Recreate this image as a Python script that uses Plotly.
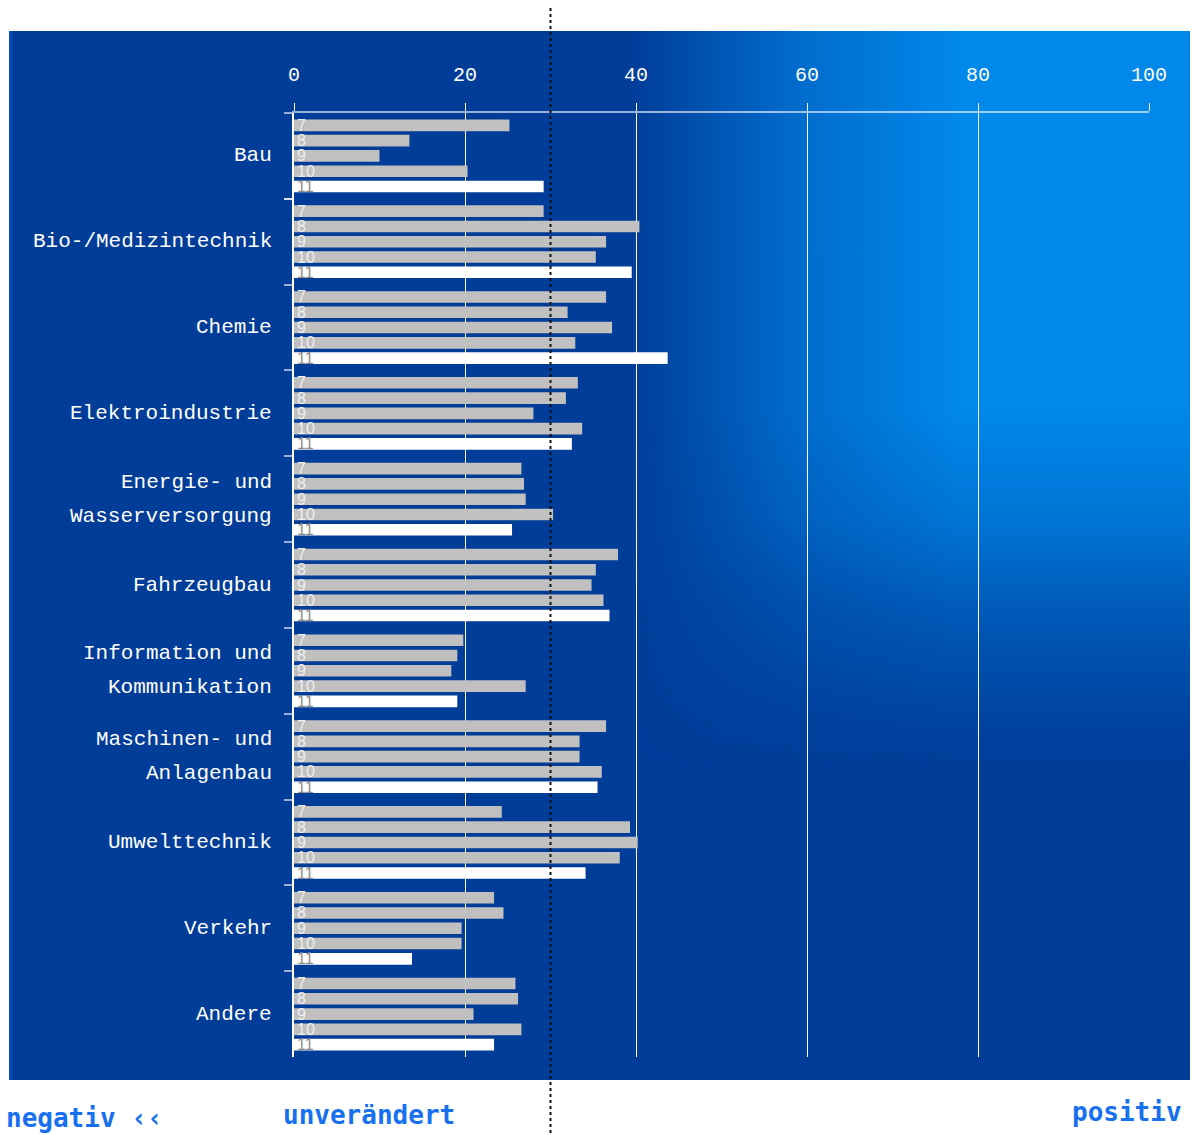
import base64
import plotly.graph_objects as go

# ---------------- data ----------------
categories = [
    "Bau", "Bio-/Medizintechnik", "Chemie", "Elektroindustrie",
    "Energie- und<br>Wasserversorgung", "Fahrzeugbau",
    "Information und<br>Kommunikation", "Maschinen- und<br>Anlagenbau",
    "Umwelttechnik", "Verkehr", "Andere",
]
series_names = ["7", "8", "9", "10", "11"]
v7 = [25.2, 29.2, 36.5, 33.2, 26.6, 37.9, 19.8, 36.5, 24.3, 23.4, 25.9]
v8 = [13.5, 40.4, 32.0, 31.8, 26.9, 35.3, 19.1, 33.4, 39.3, 24.5, 26.2]
v9 = [10.0, 36.5, 37.2, 28.0, 27.1, 34.8, 18.4, 33.4, 40.2, 19.6, 21.0]
v10 = [20.3, 35.3, 32.9, 33.7, 30.3, 36.2, 27.1, 36.0, 38.1, 19.6, 26.6]
v11 = [29.2, 39.5, 43.7, 32.5, 25.5, 36.9, 19.1, 35.5, 34.1, 13.8, 23.4]
series_values = [v7, v8, v9, v10, v11]
x_ticks = [0, 20, 40, 60, 80, 100]
reference_value = 30
bottom_labels = ["negativ \u2039\u2039", "unver\u00e4ndert", "positiv"]

# ---------------- styles ----------------
W, H = 1192, 1135
ML, MR, MT, MB = 294, 43, 113, 78
PW, PH = W - ML - MR, H - MT - MB
bar_colors = ["#c0c0c0", "#c0c0c0", "#c0c0c0", "#c0c0c0", "#ffffff"]
text_colors = ["#eeeeee", "#eeeeee", "#eeeeee", "#eeeeee", "#8c8c8c"]
MONO = "Liberation Mono, DejaVu Sans Mono, monospace"

def px_x(px):
    return (px - ML) / PW

def px_y(py):
    return (H - MB - py) / PH

fig = go.Figure()
for name, vals, bc, tc in zip(series_names, series_values, bar_colors, text_colors):
    fig.add_trace(go.Bar(
        y=categories, x=vals, orientation="h", name=name,
        marker=dict(color=bc, line=dict(width=0)),
        text=[name] * len(vals), textposition="inside", textangle=0,
        insidetextanchor="start", constraintext="none",
        textfont=dict(color=tc, size=16, family="Liberation Sans Narrow, Liberation Sans, Arial"),
        hoverinfo="x+y",
    ))

# background panel with glow (SVG gradients)
panel_x0, panel_y0, panel_x1, panel_y1 = 9, 31, 1190, 1080
pw, ph = panel_x1 - panel_x0, panel_y1 - panel_y0
svg = f'''<svg xmlns="http://www.w3.org/2000/svg" width="{pw}" height="{ph}" viewBox="0 0 {pw} {ph}" preserveAspectRatio="none">
<defs>
<linearGradient id="h" gradientUnits="userSpaceOnUse" x1="{630-panel_x0}" y1="0" x2="{960-panel_x0}" y2="0">
<stop offset="0" stop-color="#0088ea" stop-opacity="0"/>
<stop offset="0.5" stop-color="#0088ea" stop-opacity="0.62"/>
<stop offset="1" stop-color="#0088ea" stop-opacity="1"/>
</linearGradient>
<linearGradient id="v" gradientUnits="userSpaceOnUse" x1="0" y1="{410-panel_y0}" x2="0" y2="{770-panel_y0}">
<stop offset="0" stop-color="white" stop-opacity="1"/>
<stop offset="0.3" stop-color="white" stop-opacity="0.75"/>
<stop offset="0.55" stop-color="white" stop-opacity="0.4"/>
<stop offset="0.85" stop-color="white" stop-opacity="0.1"/>
<stop offset="1" stop-color="white" stop-opacity="0"/>
</linearGradient>
<mask id="m"><rect x="0" y="0" width="{pw}" height="{ph}" fill="url(#v)"/></mask>
<linearGradient id="e" x1="0" y1="0" x2="1" y2="0">
<stop offset="0" stop-color="#0a55c0"/>
<stop offset="1" stop-color="#003d99"/>
</linearGradient>
</defs>
<rect x="0" y="0" width="{pw}" height="{ph}" fill="#003d99"/>
<rect x="0" y="0" width="{pw}" height="{ph}" fill="url(#h)" mask="url(#m)"/>
<rect x="0" y="0" width="5" height="{ph}" fill="url(#e)"/>
</svg>'''
src = "data:image/svg+xml;base64," + base64.b64encode(svg.encode()).decode()

fig.add_layout_image(dict(
    source=src, xref="paper", yref="paper",
    x=px_x(panel_x0), y=px_y(panel_y0),
    sizex=pw / PW, sizey=ph / PH,
    xanchor="left", yanchor="top", sizing="stretch", layer="below",
))

# dotted reference line
fig.add_shape(type="line", xref="x", yref="paper",
              x0=reference_value, x1=reference_value,
              y0=px_y(8), y1=px_y(H),
              line=dict(color="#111111", width=2, dash="dot"), layer="above")

# category labels (one annotation per line for line spacing)
for cat in categories:
    lines = cat.split("<br>")
    n = len(lines)
    for k, ln in enumerate(lines):
        shift = (n - 1) * 17 - k * 34
        fig.add_annotation(x=0, xref="paper", y=cat, yref="y",
                           text=ln, showarrow=False, xanchor="right",
                           yanchor="middle", xshift=-20, yshift=shift,
                           font=dict(family=MONO, size=21, color="white"))

# bottom labels
blue = "#1670f0"
bfont = dict(family="DejaVu Sans Mono, monospace", size=26, color=blue)
fig.add_annotation(x=px_x(4), y=px_y(1118), xref="paper", yref="paper",
                   text="<b>" + bottom_labels[0] + "</b>", showarrow=False,
                   xanchor="left", yanchor="middle", font=bfont)
fig.add_annotation(x=px_x(281), y=px_y(1115), xref="paper", yref="paper",
                   text="<b>" + bottom_labels[1] + "</b>", showarrow=False,
                   xanchor="left", yanchor="middle", font=bfont)
fig.add_annotation(x=px_x(1184), y=px_y(1112), xref="paper", yref="paper",
                   text="<b>" + bottom_labels[2] + "</b>", showarrow=False,
                   xanchor="right", yanchor="middle", font=bfont)

fig.update_layout(
    width=W, height=H,
    margin=dict(l=ML, r=MR, t=MT, b=MB, pad=0),
    paper_bgcolor="white", plot_bgcolor="rgba(0,0,0,0)",
    barmode="group", bargap=0.11, bargroupgap=0.24,
    showlegend=False,
    xaxis=dict(
        side="top", range=[0, 100], tickvals=x_ticks,
        ticktext=[str(t) for t in x_ticks],
        showgrid=True, gridcolor="white", gridwidth=1,
        zeroline=False,
        showline=True, linecolor="rgba(255,255,255,0.6)", linewidth=2,
        ticks="outside", ticklen=8, tickcolor="white", tickwidth=1,
        ticklabelstandoff=14,
        tickfont=dict(family=MONO, size=20, color="white"),
    ),
    yaxis=dict(
        type="category", autorange="reversed",
        showticklabels=False, showgrid=False, zeroline=False,
        showline=True, linecolor="white", linewidth=1.5,
        ticks="outside", tickson="boundaries", ticklen=8,
        tickcolor="rgba(255,255,255,0.6)", tickwidth=2,
    ),
)

fig.write_html("out.html", config={"displayModeBar": False},
               post_script="document.body.style.margin='0';document.body.style.overflow='hidden';")
